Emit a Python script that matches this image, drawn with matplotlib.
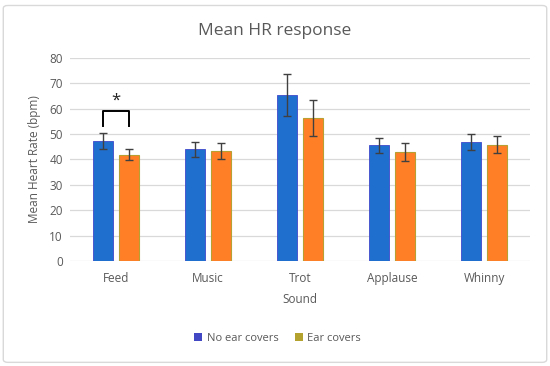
import matplotlib.pyplot as plt
import numpy as np
from matplotlib.patches import FancyBboxPatch, Patch

# data
sounds = ["Feed", "Music", "Trot", "Applause", "Whinny"]
no_covers = [47.2, 43.9, 65.5, 45.5, 46.8]
no_covers_err = [3.0, 3.1, 8.3, 3.0, 3.2]
ear_covers = [41.8, 43.3, 56.3, 43.0, 45.8]
ear_covers_err = [2.2, 3.3, 7.1, 3.5, 3.3]

plt.rcParams['font.family'] = ['Open Sans', 'DejaVu Sans']

fig = plt.figure(figsize=(5.5, 3.66), dpi=100)
ax = fig.add_axes([0.127, 0.287, 0.837, 0.555])

# outer frame like the spreadsheet chart border
frame = FancyBboxPatch((0.006, 0.01), 0.988, 0.975, boxstyle="round,pad=0,rounding_size=0.008",
                       transform=fig.transFigure, facecolor='none', edgecolor='#D9D9D9', linewidth=1.0)
fig.patches.append(frame)

x = np.arange(len(sounds))
w = 0.215
gap = 0.07
off = (w + gap) / 2

ax.bar(x - off, no_covers, w, color='#1F6FCF', edgecolor='#3F4ACB', linewidth=0.6, zorder=3)
ax.bar(x + off, ear_covers, w, color='#FF7F27', edgecolor='#B8A032', linewidth=0.8, zorder=3)
ax.errorbar(x - off, no_covers, yerr=no_covers_err, fmt='none', ecolor='#404040',
            elinewidth=1.0, capsize=3, capthick=1.0, zorder=4)
ax.errorbar(x + off, ear_covers, yerr=ear_covers_err, fmt='none', ecolor='#404040',
            elinewidth=1.0, capsize=3, capthick=1.0, zorder=4)

# significance bracket over Feed
ax.plot([-off, -off, off, off], [53.3, 59.2, 59.2, 53.3], color='black', linewidth=1.4, zorder=5)
ax.text(0, 63.0, '*', ha='center', va='center', fontsize=12, color='#222222')

ax.set_ylim(0, 80)
ax.set_xlim(-0.5, len(sounds) - 0.5)
ax.set_yticks(np.arange(0, 81, 10))
ax.set_xticks(x)
ax.set_xticklabels(sounds)
ax.tick_params(axis='y', length=0, labelsize=8.5, colors='#595959', pad=5)
ax.tick_params(axis='x', length=0, labelsize=8.5, colors='#595959', pad=8)
ax.grid(True, axis='y', color='#D9D9D9', linewidth=0.9, zorder=0)
ax.set_axisbelow(True)
for s in ax.spines.values():
    s.set_visible(False)

ax.set_xlabel('Sound', fontsize=8.5, color='#595959', labelpad=6)
ax.set_ylabel('Mean Heart Rate (bpm)', fontsize=8.5, color='#595959', labelpad=6)
fig.text(0.5, 0.915, 'Mean HR response', ha='center', va='center', fontsize=12.5, color='#595959')

handles = [Patch(facecolor='#4248C4', edgecolor='none'), Patch(facecolor='#B3A22E', edgecolor='none')]
fig.legend(handles, ['No ear covers', 'Ear covers'], loc='center', bbox_to_anchor=(0.505, 0.075),
           ncol=2, frameon=False, fontsize=8, labelcolor='#595959',
           handlelength=0.7, handleheight=0.7, handletextpad=0.4, columnspacing=1.5)

plt.savefig('out.png', dpi=100)
plt.close()
